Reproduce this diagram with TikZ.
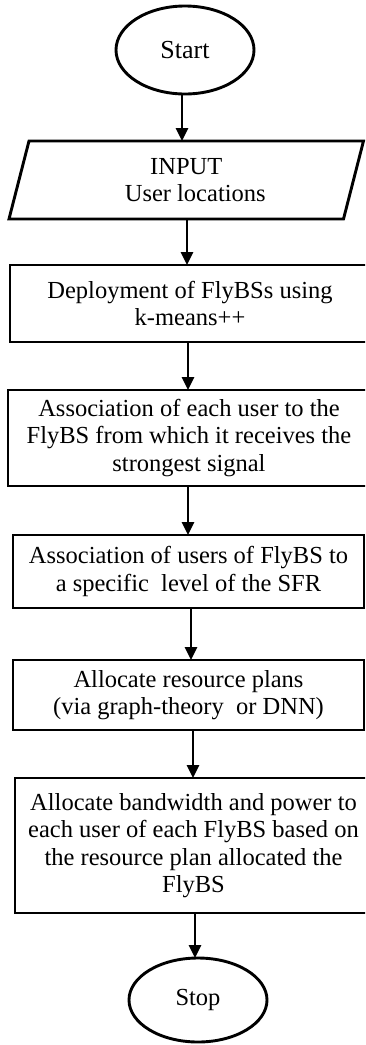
\documentclass[tikz,border=0pt]{standalone}
\usepackage{fontspec}
\setmainfont{Liberation Serif}
\usetikzlibrary{arrows.meta,shapes.geometric}
\tikzset{
  x=1pt, y=1pt,
  base/.style={line width=2.9pt, inner sep=0pt, outer sep=0pt, align=center,
    font=\fontsize{24.5}{27.5}\selectfont},
  terminal/.style={base, draw, ellipse},
  procbox/.style={base, draw, rectangle},
  openbox/.style={base, rectangle},
  iobox/.style={base, rectangle},
  edge3/.style={line width=2.9pt, line join=miter},
  flow/.style={line width=2.9pt, -{Triangle[width=12pt,length=13pt]}}
}
\begin{document}
\begin{tikzpicture}
\useasboundingbox (0,0) rectangle (365,-1045);
\clip (0,0) rectangle (365,-1045);

% terminals
\node[terminal, minimum width=138, minimum height=88,
      font=\fontsize{26}{28}\selectfont] (start) at (185,-50) {Start};
\node[terminal, minimum width=138, minimum height=84] (stop) at (198,-1000) {Stop};

% input (parallelogram drawn around a plain node)
\node[iobox, minimum width=354.5, minimum height=78] (input) at (186.25,-180)
  {INPUT\\[-1pt]\hspace*{18pt}User locations};
\draw[edge3]
  ([xshift=20pt]input.north west) -- (input.north east)
  -- ([xshift=-20pt]input.south east) -- (input.south west) -- cycle;

% process steps (the wide ones run off the right margin)
\node[openbox, minimum width=360, minimum height=77] (deploy) at (190,-303.5)
  {Deployment of FlyBSs using\\k-means++};
\node[openbox, minimum width=362, minimum height=96] (assoc) at (189,-438)
  {Association of each user to the\\FlyBS from which it receives the\\strongest signal};
\node[procbox, minimum width=351, minimum height=73] (level) at (188.5,-571.5)
  {Association of users of FlyBS to\\a specific\ \ level of the SFR};
\node[procbox, minimum width=351, minimum height=70] (plans) at (188.5,-695)
  {Allocate resource plans\\(via graph-theory\ \ or DNN)};
\node[openbox, minimum width=357, minimum height=135] (alloc) at (193.5,-845.5)
  {Allocate bandwidth and power to\\each user of each FlyBS based on\\the resource plan allocated the\\FlyBS};

\foreach \b in {deploy,assoc,alloc}
  \draw[edge3] (\b.north east) -- (\b.north west) -- (\b.south west) -- (\b.south east);

% connectors
\draw[flow] ([xshift=-3pt]start.south) -- ([xshift=-3pt]start.south |- input.north);
\draw[flow] ([xshift=0.75pt]input.south) -- ([xshift=0.75pt]input.south |- deploy.north);
\draw[flow] ([xshift=-2pt]deploy.south) -- ([xshift=-2pt]deploy.south |- assoc.north);
\draw[flow] ([xshift=-1pt]assoc.south) -- ([xshift=-1pt]assoc.south |- level.north);
\draw[flow] ([xshift=2.5pt]level.south) -- ([xshift=2.5pt]level.south |- plans.north);
\draw[flow] ([xshift=4.5pt]plans.south) -- ([xshift=4.5pt]plans.south |- alloc.north);
\draw[flow] ([xshift=1.5pt]alloc.south) -- ([xshift=1.5pt]alloc.south |- stop.north);
\end{tikzpicture}
\end{document}
